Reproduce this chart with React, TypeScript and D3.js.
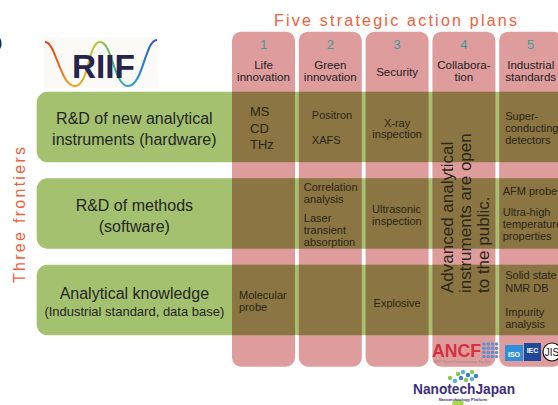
import React from 'react';
import * as d3 from 'd3';

// five action plans (columns)
const planNumbers = ['1', '2', '3', '4', '5'];
const planLabels = [
  ['Life', 'innovation'],
  ['Green', 'innovation'],
  ['Security'],
  ['Collabora-', 'tion'],
  ['Industrial', 'standards'],
];

// three frontiers (rows)
const frontierTitles = ['R&D of new analytical', 'R&D of methods', 'Analytical knowledge'];
const frontierSubtitles = ['instruments (hardware)', '(software)', '(Industrial standard, data base)'];

// cell contents: [plan index, frontier index, lines]
const cellTexts: [number, number, string[]][] = [
  [0, 0, ['MS', 'CD', 'THz']],
  [1, 0, ['Positron', 'XAFS']],
  [2, 0, ['X-ray', 'inspection']],
  [4, 0, ['Super-', 'conducting', 'detectors']],
  [1, 1, ['Correlation', 'analysis', 'Laser', 'transient', 'absorption']],
  [2, 1, ['Ultrasonic', 'inspection']],
  [4, 1, ['AFM probe', 'Ultra-high', 'temperature', 'properties']],
  [0, 2, ['Molecular', 'probe']],
  [2, 2, ['Explosive']],
  [4, 2, ['Solid state', 'NMR DB', 'Impurity', 'analysis']],
];

const openNote = ['Advanced analytical', 'instruments are open', 'to the public.'];

// layout of each cell's text block (same order as cellTexts)
const cellLayout = [
  { dx: 18, dys: [24.5, 41, 57.5], size: 13, anchor: 'start' },
  { dx: 13, dys: [27.5, 52.5], size: 11, anchor: 'start' },
  { dx: 31.5, dys: [35, 46.5], size: 11, anchor: 'middle' },
  { dx: 6, dys: [28.5, 40.5, 52.5], size: 11, anchor: 'start' },
  { dx: 5, dys: [12.5, 24.5, 43.5, 55.5, 67.5], size: 11, anchor: 'start' },
  { dx: 6.5, dys: [34.5, 46.5], size: 11, anchor: 'start' },
  { dx: 3.5, dys: [16.5, 38, 50, 62], size: 11, anchor: 'start' },
  { dx: 7, dys: [34.5, 46.5], size: 11, anchor: 'start' },
  { dx: 31.5, dys: [42], size: 11, anchor: 'middle' },
  { dx: 6, dys: [14.5, 27, 51, 63], size: 11, anchor: 'start' },
];

const W = 558;
const H = 405;
const FONT = 'Liberation Sans, Arial, Helvetica, sans-serif';
const PINK = '#de9c9d';
const GREEN = '#a3c16f';
const BROWN = '#8b7542';
const ORANGE = '#f0603c';

export default function App() {
  const x = d3.scaleBand<number>()
    .domain(d3.range(planNumbers.length))
    .range([232, 562.2])
    .paddingInner(0.057)
    .paddingOuter(0);

  const y = d3.scaleBand<number>()
    .domain(d3.range(frontierTitles.length))
    .range([91.7, 335.2])
    .paddingInner(0.185)
    .paddingOuter(0);

  const colTop = 31.7;
  const colBottom = 366.7;
  const rowLeft = 36.7;
  const labelCx = (rowLeft + x(0)!) / 2;

  const dotGrid = d3.range(16).map(i => ({ c: i % 4, r: Math.floor(i / 4) }));

  return (
    <svg width={W} height={H} style={{ position: 'fixed', left: 0, top: 0, background: '#fff' }}
      fontFamily={FONT}>
      <defs>
        <linearGradient id="wave" x1="0%" x2="100%" y1="0%" y2="0%">
          <stop offset="0%" stopColor="#e02a1e" />
          <stop offset="22%" stopColor="#f29a20" />
          <stop offset="45%" stopColor="#b8c830" />
          <stop offset="62%" stopColor="#3cb07a" />
          <stop offset="78%" stopColor="#22a0d8" />
          <stop offset="100%" stopColor="#2a4ec0" />
        </linearGradient>
      </defs>

      {/* cut-off mark at left edge */}
      <text x={-3} y={48} fontSize={16} fill="#111">)</text>

      {/* RIIF logo */}
      <rect x={44} y={37} width={114} height={51} fill="#fbfaf6" />
      <path d="M45,42 C56,42 60,86 75,86 C89,86 88,42 100,42 C112,42 114,86 128,86 C143,86 145,40 157,40"
        fill="none" stroke="url(#wave)" strokeWidth={2} />
      <text x={72} y={78} fontSize={34} fontWeight="bold" fill="#27234d" textLength={63}
        lengthAdjust="spacingAndGlyphs">RIIF</text>

      {/* title */}
      <text x={274} y={25.5} fontSize={16} fill={ORANGE} textLength={243} lengthAdjust="spacing">
        Five strategic action plans
      </text>
      <text transform="translate(25,283) rotate(-90)" fontSize={16} fill={ORANGE} textLength={136}
        lengthAdjust="spacing">Three frontiers</text>

      {/* frontier rows */}
      {frontierTitles.map((_, r) => (
        <rect key={'row' + r} x={rowLeft} y={y(r)} width={W + 20 - rowLeft} height={y.bandwidth()}
          rx={11} fill={GREEN} />
      ))}

      {/* plan columns */}
      {planNumbers.map((_, c) => (
        <rect key={'col' + c} x={x(c)} y={colTop} width={x.bandwidth()} height={colBottom - colTop}
          rx={9} fill={PINK} />
      ))}

      {/* overlaps */}
      {planNumbers.map((_, c) => frontierTitles.map((__, r) => (
        <rect key={`ov${c}-${r}`} x={x(c)} y={y(r)} width={x.bandwidth()} height={y.bandwidth()} fill={BROWN} />
      )))}

      {/* column headers */}
      {planNumbers.map((n, c) => {
        const cx = x(c)! + x.bandwidth() / 2;
        const lines = planLabels[c];
        const base = lines.length === 1 ? [76] : [68.8, 81.3];
        return (
          <g key={'hd' + c} textAnchor="middle">
            <text x={cx} y={49} fontSize={13} fill="#3a9a9c">{n}</text>
            {lines.map((l, i) => (
              <text key={i} x={cx} y={base[i]} fontSize={11.6} fill="#222">{l}</text>
            ))}
          </g>
        );
      })}

      {/* frontier labels */}
      {frontierTitles.map((t, r) => {
        const top = y(r)!;
        return (
          <g key={'fl' + r} textAnchor="middle" fill="#262626">
            <text x={labelCx} y={top + (r === 2 ? 34.5 : 32.5)} fontSize={16}>{t}</text>
            <text x={labelCx} y={top + (r === 2 ? 51.5 : 53.5)} fontSize={r === 2 ? 13 : 16}>
              {frontierSubtitles[r]}
            </text>
          </g>
        );
      })}

      {/* cell texts */}
      {cellTexts.map(([c, r, lines], i) => {
        const lay = cellLayout[i];
        return (
          <g key={'cell' + i} fontSize={lay.size} fill="#2a2618" textAnchor={lay.anchor}>
            {lines.map((l, j) => (
              <text key={j} x={x(c)! + lay.dx} y={y(r)! + lay.dys[j]}>{l}</text>
            ))}
          </g>
        );
      })}

      {/* collaboration note, vertical */}
      {openNote.map((l, i) => (
        <text key={'on' + i} transform={`translate(${x(3)! + 20.5 + i * 18},293) rotate(-90)`}
          fontSize={17} fill="#2a2618">{l}</text>
      ))}

      {/* ANCF logo */}
      <text x={432} y={357} fontSize={18} fontWeight="bold" fill="#d6303f" textLength={49}
        lengthAdjust="spacingAndGlyphs">ANCF</text>
      {dotGrid.map((d, i) => (
        <circle key={'dg' + i} cx={484 + d.c * 4.2} cy={344 + d.r * 4.2} r={1.7} fill="#5b8fd6" />
      ))}
      <text x={434} y={363} fontSize={3.6} fill="#9a8a8a">AIST NanoCharacterization Facility</text>

      {/* ISO / IEC / JIS */}
      <rect x={505} y={345} width={18} height={16} fill="#2f8fd8" />
      <text x={514} y={356.5} fontSize={7} fontWeight="bold" fill="#fff" textAnchor="middle">ISO</text>
      <rect x={524} y={343} width={17} height={18} fill="#1f4a9c" />
      <text x={532.5} y={353} fontSize={7} fontWeight="bold" fill="#fff" textAnchor="middle">IEC</text>
      <circle cx={552} cy={352} r={9} fill="#fff" stroke="#111" strokeWidth={1.2} />
      <text x={552} y={356} fontSize={10} fill="#111" textAnchor="middle">JIS</text>

      {/* NanotechJapan logo */}
      {[[458, 374, '#8cc850'], [463, 372, '#5ab0e0'], [468, 375, '#3a7ec8'], [472, 372, '#8cc850'],
        [461, 378, '#3a7ec8'], [466, 380, '#8cc850'], [455, 381, '#5ab0e0'], [472, 379, '#5ab0e0'],
        [450, 378, '#8cc850'], [476, 376, '#3a7ec8']].map(([cx, cy, f], i) => (
        <circle key={'nd' + i} cx={cx as number} cy={cy as number} r={2.2} fill={f as string} />
      ))}
      <ellipse cx={458} cy={403} rx={6} ry={3} fill="#a6d84a" />
      <text x={413} y={394} fontSize={15} fontWeight="bold" fill="#3d2f7c" textLength={102}
        lengthAdjust="spacingAndGlyphs">NanotechJapan</text>
      <text x={463} y={400.5} fontSize={4} fontWeight="bold" fill="#3d2f7c" textAnchor="middle">
        Nanotechnology Platform
      </text>
    </svg>
  );
}
